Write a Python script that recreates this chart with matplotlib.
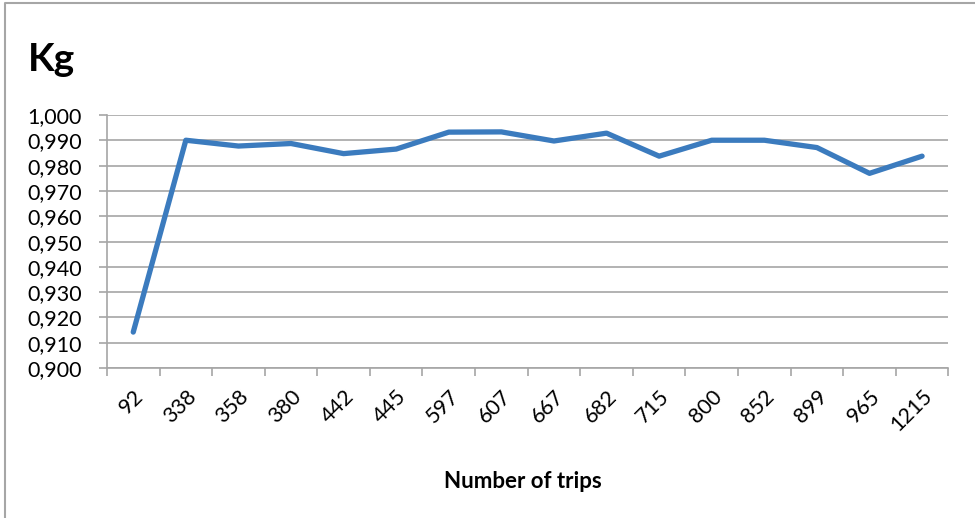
import matplotlib.pyplot as plt
from matplotlib.lines import Line2D
from matplotlib.ticker import FuncFormatter

trips = ["92", "338", "358", "380", "442", "445", "597", "607", "667",
         "682", "715", "800", "852", "899", "965", "1215"]
kg = [0.9142, 0.9901, 0.9878, 0.9888, 0.9848, 0.9866, 0.9933, 0.9934,
      0.9898, 0.9929, 0.9838, 0.9901, 0.9901, 0.9872, 0.9770, 0.9838]

plt.rcParams['font.family'] = ['Lato', 'DejaVu Sans']
grey = '#a6a6a6'

fig = plt.figure(figsize=(9.75, 5.18), dpi=100)
# chart frame: only top and left edges are visible in the crop
fig.lines.append(Line2D([0.0055, 0.0055, 1.0], [0.0, 0.994, 0.994], transform=fig.transFigure,
                        color=grey, linewidth=1.5))
ax = fig.add_axes([0.1097, 0.2896, 0.863, 0.488])

x = range(len(trips))
ax.plot(x, kg, color='#3b7bbe', linewidth=3.8, solid_capstyle='round', solid_joinstyle='round')

ax.set_xlim(-0.5, len(trips) - 0.5)
ax.set_ylim(0.9, 1.0)
ax.set_yticks([0.9 + 0.01 * i for i in range(11)])
ax.yaxis.set_major_formatter(FuncFormatter(lambda v, p: f"{v:.3f}".replace('.', ',')))
ax.grid(axis='y', color=grey, linewidth=1.2)
ax.set_axisbelow(True)

ax.set_xticks(list(x))
ax.set_xticklabels(trips, rotation=45, ha='right', rotation_mode='anchor')
ax.set_xticks([i - 0.5 for i in range(len(trips) + 1)], minor=True)
ax.tick_params(axis='x', which='major', length=0, pad=13, labelsize=15.5)
ax.tick_params(axis='x', which='minor', length=6, color=grey, width=1.2)
ax.tick_params(axis='y', length=6, color=grey, width=1.2, labelsize=15.5, pad=12)

for s in ['top', 'right']:
    ax.spines[s].set_visible(False)
for s in ['left', 'bottom']:
    ax.spines[s].set_color(grey)
    ax.spines[s].set_linewidth(1.2)

fig.text(0.029, 0.863, "Kg", fontsize=28, fontweight='bold')
fig.text(0.536, 0.058, "Number of trips", fontsize=16, fontweight='bold', ha='center')

plt.savefig("out.png", dpi=100)
